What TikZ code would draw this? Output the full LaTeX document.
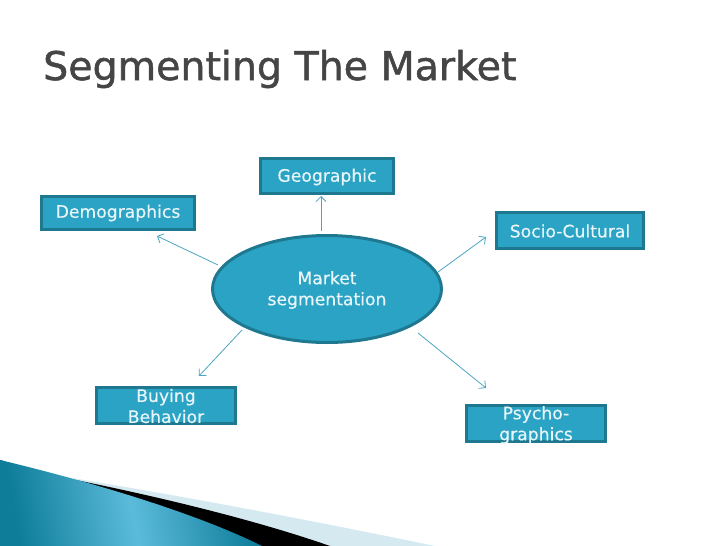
\documentclass[tikz,border=0pt]{standalone}
\usepackage{fontspec}
\setmainfont{DejaVu Sans}
\newfontfamily\titlefont[FakeBold=1.3]{DejaVu Sans}
\newfontfamily\boxfont[FakeBold=0.4]{DejaVu Sans}
\usetikzlibrary{shapes.geometric,arrows.meta}
\definecolor{boxfill}{HTML}{2BA3C4}
\definecolor{boxedge}{HTML}{1E7890}
\definecolor{boxtext}{HTML}{E8F6FA}
\definecolor{arrowc}{HTML}{4AA6C2}
\definecolor{titlec}{HTML}{454545}
\definecolor{tealdark}{HTML}{0D7D9A}
\definecolor{teallight}{HTML}{5CBBDA}
\definecolor{paleblue}{HTML}{D5E9F0}
\tikzset{
  segbox/.style={draw=boxedge, fill=boxfill, line width=3pt, inner sep=0pt},
  segtext/.style={text=boxtext, font=\boxfont\fontsize{17.2}{21}\selectfont, align=center, inner sep=0pt},
  segarrow/.style={draw=arrowc, line width=0.8pt, -{Straight Barb[length=5pt,width=10pt]}},
}
\begin{document}
\begin{tikzpicture}[x=1pt,y=-1pt]
\useasboundingbox (0,0) rectangle (728,546);
\fill[white] (0,0) rectangle (728,546);
% bottom swoosh
\fill[paleblue] (40,473) .. controls (150,490) and (300,518) .. (435,546) -- (0,546) -- (0,460) -- cycle;
\fill[black] (40,473) .. controls (140,492) and (250,518) .. (330,546) -- (0,546) -- (0,460) -- cycle;
\shade[left color=tealdark, right color=tealdark, middle color=teallight, shading angle=100]
  (0,460) .. controls (100,484) and (200,515) .. (262,546) -- (0,546) -- cycle;
% title
\node[anchor=base west, inner sep=0pt, text=titlec, font=\titlefont\fontsize{39.5}{48}\selectfont] (title) at (43,80) {Segmenting The Market};
% boxes
\node[segbox, minimum width=133pt, minimum height=35pt] (geo) at (327,176) {};
\node[segtext] (geot) at (327,177) {Geographic};
\node[segbox, minimum width=153pt, minimum height=33pt] (demo) at (118,213) {};
\node[segtext] (demot) at (118,213) {Demographics};
\node[segbox, minimum width=147pt, minimum height=36pt] (socio) at (570,230.5) {};
\node[segtext] (sociot) at (570,231) {Socio-Cultural};
\node[segbox, minimum width=139pt, minimum height=36pt] (buy) at (166,405.5) {};
\node[segtext] (buyt) at (166,406) {Buying\\Behavior};
\node[segbox, minimum width=139pt, minimum height=36pt] (psy) at (536,423.5) {};
\node[segtext] (psyt) at (536,425) {Psycho-\\graphics};
% ellipse
\node[ellipse, draw=boxedge, fill=boxfill, line width=3pt, minimum width=229pt, minimum height=107pt, inner sep=0pt] (ell) at (327,289) {};
\node[segtext] (ellt) at (327,290) {Market\\segmentation};
% arrow ends
\coordinate (g1) at (321,231); \coordinate (g2) at (321,196);
\coordinate (d1) at (218,265); \coordinate (d2) at (157,236);
\coordinate (s1) at (438,272); \coordinate (s2) at (486,237);
\coordinate (b1) at (242,330); \coordinate (b2) at (199,376);
\coordinate (p1) at (418,333); \coordinate (p2) at (486,388);
\draw[segarrow] (g1) -- (g2);
\draw[segarrow] (d1) -- (d2);
\draw[segarrow] (s1) -- (s2);
\draw[segarrow] (b1) -- (b2);
\draw[segarrow] (p1) -- (p2);
\end{tikzpicture}
\end{document}
